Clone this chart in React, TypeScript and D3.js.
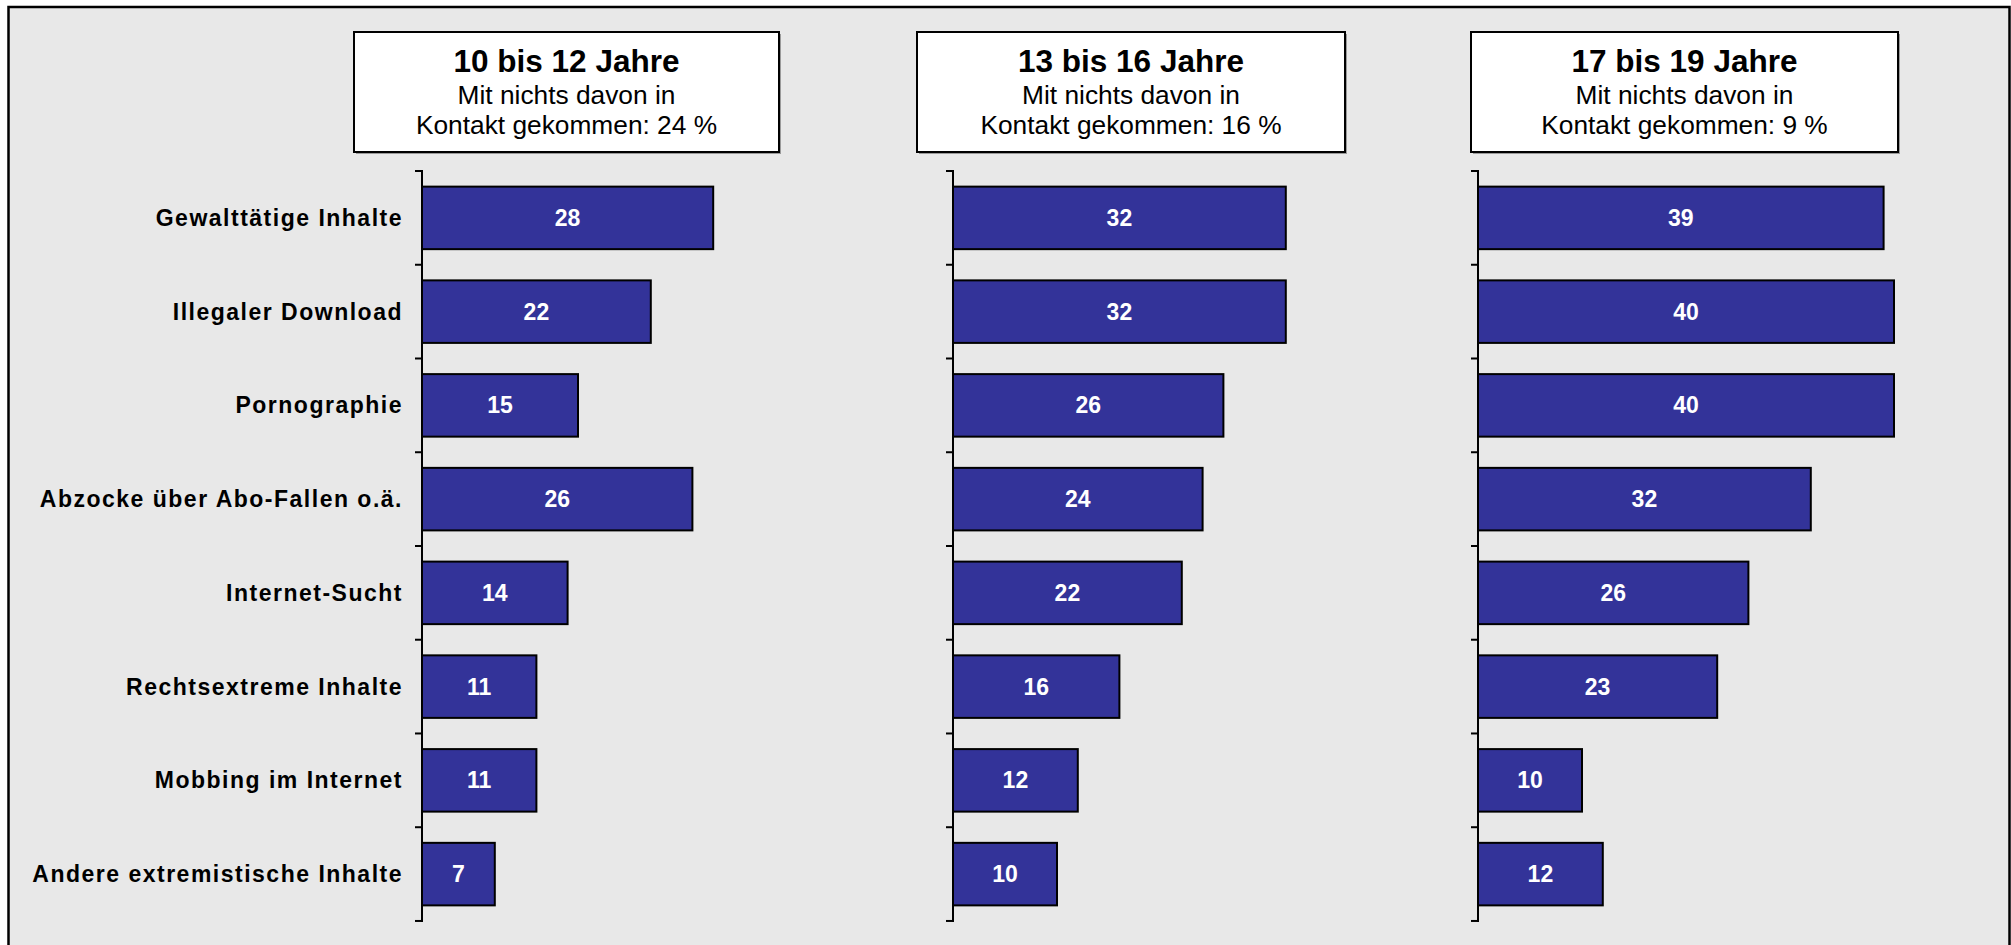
import React, { useRef, useEffect } from "react";
import * as d3 from "d3";

// categories (top to bottom)
const categories = [
  "Gewalttätige Inhalte",
  "Illegaler Download",
  "Pornographie",
  "Abzocke über Abo-Fallen o.ä.",
  "Internet-Sucht",
  "Rechtsextreme Inhalte",
  "Mobbing im Internet",
  "Andere extremistische Inhalte",
];

// values per age group, in %
const values10to12 = [28, 22, 15, 26, 14, 11, 11, 7];
const values13to16 = [32, 32, 26, 24, 22, 16, 12, 10];
const values17to19 = [39, 40, 40, 32, 26, 23, 10, 12];

const groupTitles = ["10 bis 12 Jahre", "13 bis 16 Jahre", "17 bis 19 Jahre"];
const noContact = [24, 16, 9];

const FONT = "'Liberation Sans', Arial, Helvetica, sans-serif";

export default function App() {
  const ref = useRef<SVGSVGElement | null>(null);

  useEffect(() => {
    const width = 2011;
    const height = 945;

    d3.select(ref.current).selectAll("*").remove();

    const svg = d3
      .select(ref.current)
      .attr("width", width)
      .attr("height", height)
      .style("background-color", "#ffffff");

    // panel background + frame
    svg
      .append("rect")
      .attr("x", 8.5)
      .attr("y", 7)
      .attr("width", 2001)
      .attr("height", 960)
      .attr("fill", "#e8e8e8")
      .attr("stroke", "#000")
      .attr("stroke-width", 2.5);

    const panels = [
      { values: values10to12, axisX: 422, box: { x: 354, w: 425 } },
      { values: values13to16, axisX: 953, box: { x: 917, w: 428 } },
      { values: values17to19, axisX: 1478, box: { x: 1471, w: 427 } },
    ];

    const y = d3
      .scaleBand<string>()
      .domain(categories)
      .range([171, 921])
      .paddingInner(0.333)
      .paddingOuter(0.1667);

    const x = d3.scaleLinear().domain([0, 40]).range([0, 416]);

    panels.forEach((p, pi) => {
      // title box (with a faint drop shadow)
      const bx = p.box.x;
      const cx = bx + p.box.w / 2;
      svg
        .append("rect")
        .attr("x", bx + 2)
        .attr("y", 34)
        .attr("width", p.box.w)
        .attr("height", 120)
        .attr("fill", "#9a9a9a");
      svg
        .append("rect")
        .attr("x", bx)
        .attr("y", 32)
        .attr("width", p.box.w)
        .attr("height", 120)
        .attr("fill", "#fff")
        .attr("stroke", "#000")
        .attr("stroke-width", 2);

      const t = svg
        .append("g")
        .attr("font-family", FONT)
        .attr("text-anchor", "middle")
        .attr("fill", "#000");
      t.append("text")
        .attr("x", cx)
        .attr("y", 72)
        .attr("font-size", 31.5)
        .attr("font-weight", "bold")
        .text(groupTitles[pi]);
      t.append("text")
        .attr("x", cx)
        .attr("y", 104)
        .attr("font-size", 26.3)
        .text("Mit nichts davon in");
      t.append("text")
        .attr("x", cx)
        .attr("y", 133.5)
        .attr("font-size", 26.3)
        .text(`Kontakt gekommen: ${noContact[pi]} %`);

      const g = svg.append("g").attr("transform", `translate(${p.axisX},0)`);

      // bars
      g.selectAll("rect.bar")
        .data(p.values)
        .join("rect")
        .attr("class", "bar")
        .attr("x", 0)
        .attr("y", (_, i) => y(categories[i])!)
        .attr("width", (d) => x(d))
        .attr("height", y.bandwidth())
        .attr("fill", "#333399")
        .attr("stroke", "#000")
        .attr("stroke-width", 2);

      // value labels
      g.selectAll("text.val")
        .data(p.values)
        .join("text")
        .attr("class", "val")
        .attr("x", (d) => x(d) / 2)
        .attr("y", (_, i) => y(categories[i])! + y.bandwidth() / 2)
        .attr("dy", "0.35em")
        .attr("text-anchor", "middle")
        .attr("font-family", FONT)
        .attr("font-size", 23)
        .attr("font-weight", "bold")
        .attr("fill", "#fff")
        .text((d) => d);

      // category axis: line + ticks at band boundaries
      const step = y.step();
      const ticks = d3.range(categories.length + 1).map((i) => 171 + i * step);
      g.append("line")
        .attr("x1", 0)
        .attr("x2", 0)
        .attr("y1", 170)
        .attr("y2", 922)
        .attr("stroke", "#000")
        .attr("stroke-width", 2);
      g.selectAll("line.tick")
        .data(ticks)
        .join("line")
        .attr("class", "tick")
        .attr("x1", -7)
        .attr("x2", 0)
        .attr("y1", (d) => d)
        .attr("y2", (d) => d)
        .attr("stroke", "#000")
        .attr("stroke-width", 2);

      // category labels only on the first panel
      if (pi === 0) {
        g.selectAll("text.cat")
          .data(categories)
          .join("text")
          .attr("class", "cat")
          .attr("x", -19)
          .attr("y", (d) => y(d)! + y.bandwidth() / 2)
          .attr("dy", "0.35em")
          .attr("text-anchor", "end")
          .attr("font-family", FONT)
          .attr("font-size", 23)
          .attr("font-weight", "bold")
          .attr("letter-spacing", "1.5px")
          .attr("fill", "#000")
          .text((d) => d);
      }
    });
  }, []);

  return (
    <div style={{ position: "absolute", left: 0, top: 0 }}>
      <svg ref={ref} style={{ display: "block" }}></svg>
    </div>
  );
}
